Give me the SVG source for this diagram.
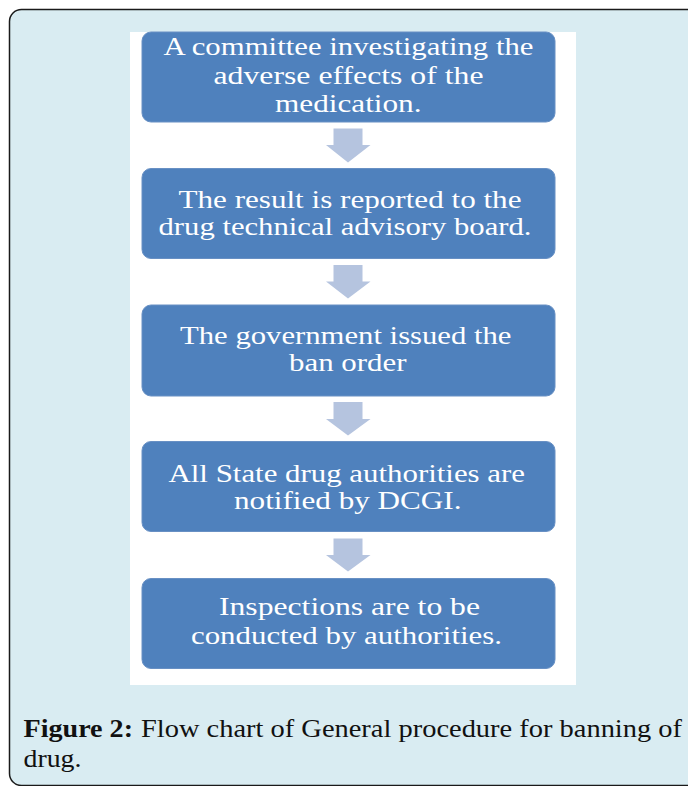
<svg xmlns="http://www.w3.org/2000/svg" width="688" height="786" viewBox="0 0 688 786">
<style>
.frame{fill:#d9ecf2;stroke:#1a1a1a;stroke-width:1.5}
.panel{fill:#ffffff}
.box{fill:#4f81bd;stroke:#6890c4;stroke-width:1}
.bt{font-family:"Liberation Serif","Times New Roman",serif;font-size:25px;fill:#ffffff}
.arrow{fill:#b5c4df}
.cap{font-family:"Liberation Serif","Times New Roman",serif;font-size:25px;fill:#111111}
.capb{font-weight:bold}
</style>
<rect class="frame" x="9.5" y="9.5" width="700" height="776" rx="12" ry="12"/>
<rect class="panel" x="130" y="32" width="446" height="653"/>
<g id="connectors">
<polygon class="arrow" points="333.5,128.5 362.5,128.5 362.5,145 370.5,145 348,162.5 326,145 333.5,145"/>
<polygon class="arrow" points="333.5,265 362.5,265 362.5,281.5 370.5,281.5 348,298.5 326,281.5 333.5,281.5"/>
<polygon class="arrow" points="333.5,402 362.5,402 362.5,419 370.5,419 348,435.5 326,419 333.5,419"/>
<polygon class="arrow" points="333.5,538.5 362.5,538.5 362.5,555 370.5,555 348,571.5 326,555 333.5,555"/>
</g>
<g id="node1">
<rect class="box" x="142" y="32" width="413" height="90" rx="9" ry="9"/>
<text class="bt" x="163.5" y="55" textLength="370" lengthAdjust="spacingAndGlyphs">A committee investigating the</text>
<text class="bt" x="213.5" y="84" textLength="270" lengthAdjust="spacingAndGlyphs">adverse effects of the</text>
<text class="bt" x="275" y="111.5" textLength="146.5" lengthAdjust="spacingAndGlyphs">medication.</text>
</g>
<g id="node2">
<rect class="box" x="142" y="168.5" width="413" height="90" rx="9" ry="9"/>
<text class="bt" x="178.5" y="207.5" textLength="343" lengthAdjust="spacingAndGlyphs">The result is reported to the</text>
<text class="bt" x="158.5" y="234.5" textLength="373" lengthAdjust="spacingAndGlyphs">drug technical advisory board.</text>
</g>
<g id="node3">
<rect class="box" x="142" y="305" width="413" height="91" rx="9" ry="9"/>
<text class="bt" x="180" y="343.5" textLength="331.5" lengthAdjust="spacingAndGlyphs">The government issued the</text>
<text class="bt" x="289" y="371" textLength="117.5" lengthAdjust="spacingAndGlyphs">ban order</text>
</g>
<g id="node4">
<rect class="box" x="142" y="441.5" width="413" height="90" rx="9" ry="9"/>
<text class="bt" x="168.5" y="481.5" textLength="356.5" lengthAdjust="spacingAndGlyphs">All State drug authorities are</text>
<text class="bt" x="234" y="508.5" textLength="227.5" lengthAdjust="spacingAndGlyphs">notified by DCGI.</text>
</g>
<g id="node5">
<rect class="box" x="142" y="578.5" width="413" height="90" rx="9" ry="9"/>
<text class="bt" x="219" y="615" textLength="261" lengthAdjust="spacingAndGlyphs">Inspections are to be</text>
<text class="bt" x="191" y="644" textLength="311" lengthAdjust="spacingAndGlyphs">conducted by authorities.</text>
</g>
<g id="caption">
<text class="cap capb" x="23.5" y="737" textLength="109.5" lengthAdjust="spacingAndGlyphs">Figure 2:</text>
<text class="cap" x="141" y="737" textLength="541" lengthAdjust="spacingAndGlyphs">Flow chart of General procedure for banning of</text>
<text class="cap" x="23.5" y="767" textLength="58" lengthAdjust="spacingAndGlyphs">drug.</text>
</g>
</svg>
